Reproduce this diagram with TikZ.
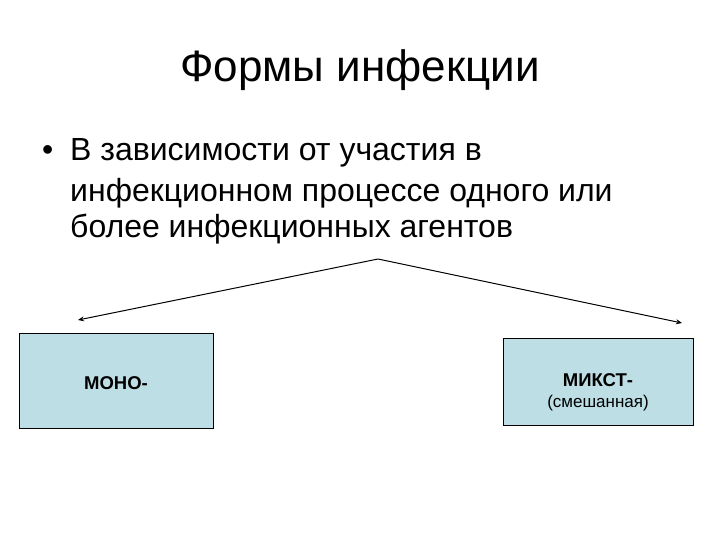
\documentclass[tikz,border=0pt]{standalone}
\usepackage{fontspec}
\usetikzlibrary{arrows.meta}
\setmainfont{Liberation Sans}
\definecolor{boxc}{RGB}{188,222,228}
\begin{document}
\begin{tikzpicture}[x=1pt,y=-1pt,
  box/.style={draw=black,line width=0.8pt,fill=boxc,minimum width=#1,inner sep=0pt},
  txt/.style={anchor=west,inner sep=0pt,font=\fontsize{32}{36}\selectfont},
  conn/.style={-{Stealth[length=6pt,width=5pt]},line width=1pt}]
\useasboundingbox (0,0) rectangle (720,540);
\node (title) at (360,70) {\fontsize{44}{50}\selectfont Формы инфекции};
\node[txt] (b) at (42,153) {•};
\node[txt] (l1) at (70,153) {В зависимости от участия в};
\node[txt] (l2) at (70,193) {инфекционном процессе одного или};
\node[txt] (l3) at (70,229) {более инфекционных агентов};
\node[box=194pt,minimum height=95pt] (mono) at (116,380.5) {};
\node[font=\bfseries\fontsize{18.5}{22}\selectfont] (mt) at (116,383) {МОНО-};
\node[box=190pt,minimum height=87pt] (mix) at (598,381.5) {};
\node[font=\fontsize{18.5}{22}\selectfont,align=center] (xt) at (598,392) {\textbf{МИКСТ-}\\[-1pt]\fontsize{17}{20}\selectfont(смешанная)};
\coordinate (apex) at (378,259);
\coordinate (la) at (78,320);
\coordinate (ra) at (682,323);
\draw[conn] (apex) -- (la);
\draw[conn] (apex) -- (ra);
\end{tikzpicture}
\end{document}
